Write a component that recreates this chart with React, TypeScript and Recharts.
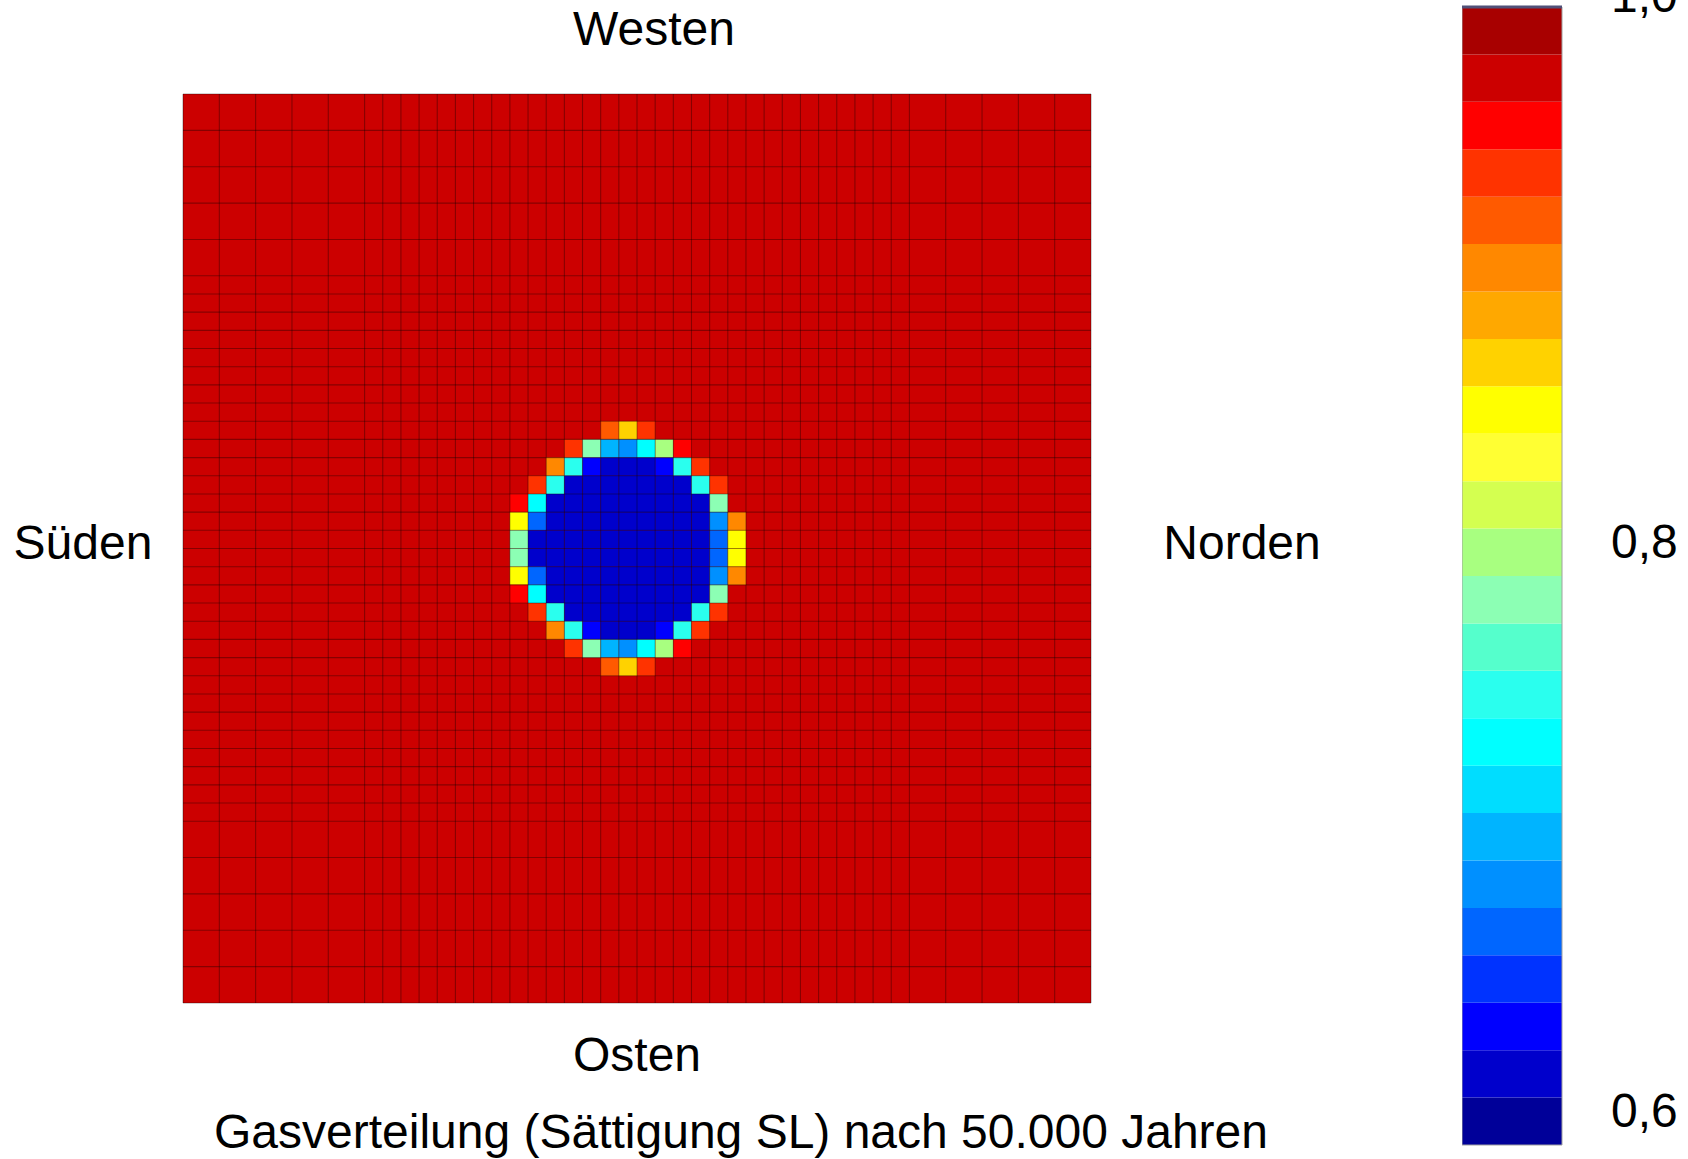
import React from 'react';
import { ComposedChart, XAxis, YAxis, ReferenceArea, ReferenceLine } from 'recharts';

const FONT = '"Liberation Sans", Arial, Helvetica, sans-serif';

// Mesh cell boundaries (in fine-cell units): 5 coarse cells, 30 fine cells, 5 coarse cells
const meshX = [0, 2, 4, 6, 8, 10, 11, 12, 13, 14, 15, 16, 17, 18, 19, 20, 21, 22, 23, 24, 25, 26, 27, 28, 29, 30, 31, 32, 33, 34, 35, 36, 37, 38, 39, 40, 42, 44, 46, 48, 50];
const meshY = [0, 2, 4, 6, 8, 10, 11, 12, 13, 14, 15, 16, 17, 18, 19, 20, 21, 22, 23, 24, 25, 26, 27, 28, 29, 30, 31, 32, 33, 34, 35, 36, 37, 38, 39, 40, 42, 44, 46, 48, 50];

// Saturation of the surrounding field
const fieldValue = 0.975;
// Saturation inside the gas zone
const coreValue = 0.625;

// Window of cells around the gas zone (first column / first row in mesh units)
const zoneCol0 = 18;
const zoneRow0 = 18;

const B = fieldValue;
const I = coreValue;
const zoneValues: number[][] = [
  [B, B, B, B, B, 0.925, 0.875, 0.94, B, B, B, B, B],
  [B, B, B, 0.94, 0.79, 0.71, 0.69, 0.745, 0.815, 0.955, B, B, B],
  [B, B, 0.905, 0.755, 0.645, I, I, I, 0.64, 0.755, 0.94, B, B],
  [B, 0.94, 0.755, I, I, I, I, I, I, I, 0.755, 0.935, B],
  [0.955, 0.745, I, I, I, I, I, I, I, I, I, 0.79, B],
  [0.865, 0.67, I, I, I, I, I, I, I, I, I, 0.69, 0.905],
  [0.79, I, I, I, I, I, I, I, I, I, I, 0.67, 0.86],
  [0.79, I, I, I, I, I, I, I, I, I, I, 0.67, 0.86],
  [0.865, 0.67, I, I, I, I, I, I, I, I, I, 0.69, 0.905],
  [0.955, 0.745, I, I, I, I, I, I, I, I, I, 0.79, B],
  [B, 0.94, 0.755, I, I, I, I, I, I, I, 0.755, 0.935, B],
  [B, B, 0.905, 0.755, 0.645, I, I, I, 0.64, 0.755, 0.94, B, B],
  [B, B, B, 0.94, 0.79, 0.71, 0.69, 0.745, 0.815, 0.955, B, B, B],
  [B, B, B, B, B, 0.925, 0.875, 0.94, B, B, B, B, B],
];

// Colour scale (bottom -> top)
const scaleMin = 0.6;
const scaleMax = 1.0;
const scaleColors = [
  '#000099', '#0000cc', '#0000ff', '#0033ff', '#0066ff', '#0090ff',
  '#00b4ff', '#00ddff', '#00ffff', '#2affee', '#55ffcc', '#8cffb4',
  '#a8ff80', '#d4ff50', '#ffff33', '#ffff00', '#ffd200', '#ffa800',
  '#ff8800', '#ff5a00', '#ff3300', '#ff0000', '#cc0000', '#a80000',
];
const scaleTicks = [0.6, 0.8, 1.0];

const labelTop = 'Westen';
const labelBottom = 'Osten';
const labelLeft = 'Süden';
const labelRight = 'Norden';
const title = 'Gasverteilung (Sättigung SL) nach 50.000 Jahren';

const step = (scaleMax - scaleMin) / scaleColors.length;
const colorFor = (v: number) => {
  let idx = Math.floor((v - scaleMin) / step);
  if (idx < 0) idx = 0;
  if (idx > scaleColors.length - 1) idx = scaleColors.length - 1;
  return scaleColors[idx];
};

const bands = scaleColors.map((c, i) => ({
  y1: scaleMin + i * step,
  y2: scaleMin + (i + 1) * step,
  fill: c,
}));

const zoneCells: { x1: number; x2: number; y1: number; y2: number; fill: string }[] = [];
zoneValues.forEach((row, r) => {
  row.forEach((v, c) => {
    if (v !== fieldValue) {
      zoneCells.push({
        x1: zoneCol0 + c,
        x2: zoneCol0 + c + 1,
        y1: zoneRow0 + r,
        y2: zoneRow0 + r + 1,
        fill: colorFor(v),
      });
    }
  });
});

const ScaleTick = (props: any) => {
  const { x, y, payload } = props;
  const label = Number(payload.value).toFixed(1).replace('.', ',');
  return (
    <text
      x={x + 41}
      y={Math.max(y - 18, 12)}
      textAnchor="start"
      fontFamily={FONT}
      fontSize={48}
      fill="#000"
    >
      {label}
    </text>
  );
};

export default function App() {
  const textStyle = { fontFamily: FONT, fontSize: 48, fill: '#000' } as const;
  return (
    <div style={{ position: 'absolute', left: 0, top: 0, width: 1688, height: 1159, background: '#fff', overflow: 'hidden' }}>
      <div style={{ position: 'absolute', left: 0, top: 0 }}>
        <ComposedChart width={1200} height={1159} margin={{ top: 94, left: 183, right: 109, bottom: 156 }}>
          <XAxis type="number" dataKey="x" domain={[0, 50]} hide allowDataOverflow />
          <YAxis type="number" dataKey="y" domain={[0, 50]} reversed hide allowDataOverflow />
          <ReferenceArea x1={0} x2={50} y1={0} y2={50} fill={colorFor(fieldValue)} fillOpacity={1} stroke="none" />
          {zoneCells.map((c, i) => (
            <ReferenceArea key={'c' + i} x1={c.x1} x2={c.x2} y1={c.y1} y2={c.y2} fill={c.fill} fillOpacity={1} stroke="none" />
          ))}
          {meshX.map((b) => (
            <ReferenceLine key={'vx' + b} x={b} stroke="#000" strokeOpacity={0.34} strokeWidth={1.1} />
          ))}
          {meshY.map((b) => (
            <ReferenceLine key={'hy' + b} y={b} stroke="#000" strokeOpacity={0.34} strokeWidth={1.1} />
          ))}
        </ComposedChart>
      </div>
      <div style={{ position: 'absolute', left: 1462, top: 0 }}>
        <ComposedChart width={226} height={1159} margin={{ top: 7, left: 0, right: 0, bottom: 14 }}>
          <XAxis type="number" dataKey="x" domain={[0, 1]} hide allowDataOverflow />
          <YAxis
            type="number"
            dataKey="v"
            orientation="right"
            width={126}
            domain={[scaleMin, scaleMax]}
            ticks={scaleTicks}
            axisLine={false}
            tickLine={false}
            tick={<ScaleTick />}
            allowDataOverflow
          />
          {bands.map((b, i) => (
            <ReferenceArea key={'b' + i} x1={0} x2={1} y1={b.y1} y2={b.y2} fill={b.fill} fillOpacity={1} stroke="none" />
          ))}
          <ReferenceArea x1={0} x2={1} y1={scaleMin} y2={scaleMax} fill="none" stroke="#a0a0a0" strokeWidth={1} />
          <ReferenceLine y={scaleMax} stroke="#505078" strokeWidth={3} />
        </ComposedChart>
      </div>
      <svg width={1688} height={1159} style={{ position: 'absolute', left: 0, top: 0, pointerEvents: 'none' }}>
        <text x={654} y={45} textAnchor="middle" {...textStyle}>{labelTop}</text>
        <text x={637} y={1071} textAnchor="middle" {...textStyle}>{labelBottom}</text>
        <text x={83} y={559} textAnchor="middle" {...textStyle}>{labelLeft}</text>
        <text x={1242} y={559} textAnchor="middle" {...textStyle}>{labelRight}</text>
        <text x={741} y={1148} textAnchor="middle" {...textStyle}>{title}</text>
      </svg>
    </div>
  );
}
